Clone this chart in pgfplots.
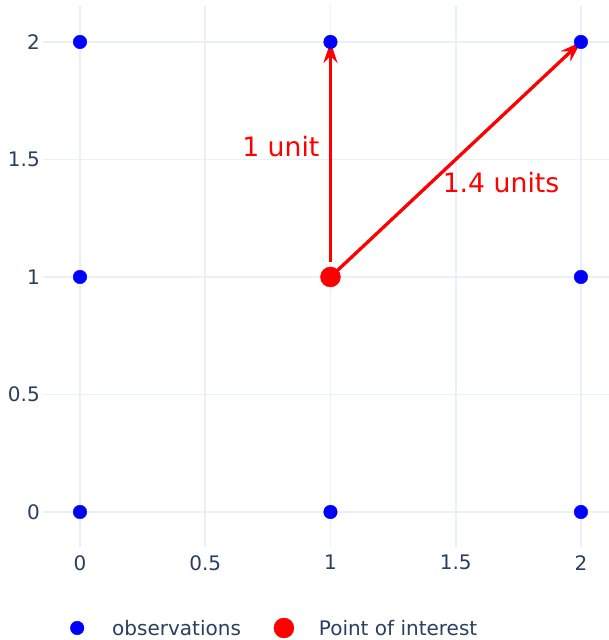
\documentclass[border=0pt]{standalone}
\usepackage{pgfplots}
\pgfplotsset{compat=1.18}
\usepackage{fontspec}
\setmainfont{DejaVu Sans}
\usetikzlibrary{arrows.meta}
\definecolor{tickc}{HTML}{2A3F5F}
\definecolor{gridc}{HTML}{EBF0F8}
\definecolor{pblue}{HTML}{0000FF}
\definecolor{pred}{HTML}{FF0000}
\pgfplotsset{dotlegend/.style={legend image code/.code={\path[draw=none,fill=none] (-10bp,0) rectangle (10bp,1bp); \draw[#1] plot coordinates {(0bp,0.5bp)};}}}
\begin{document}
\begin{tikzpicture}
\useasboundingbox (-43bp,-93bp) rectangle (566bp,547bp);
\begin{axis}[
  scale only axis, width=566bp, height=541bp,
  xmin=-0.1477, xmax=2.112, ymin=-0.149, ymax=2.153,
  axis line style={draw=none},
  major tick length=0pt,
  xtick={0,0.5,1,1.5,2}, xticklabels={0,0.5,1,1.5,2},
  ytick={0,0.5,1,1.5,2}, yticklabels={0,0.5,1,1.5,2},
  grid=major, grid style={gridc, line width=1.7bp},
  ticklabel style={font=\fontsize{20bp}{24bp}\selectfont, text=tickc, inner sep=0pt},
  xticklabel style={anchor=north, yshift=-8bp},
  yticklabel style={anchor=east, xshift=-3bp},
  clip=false,
  legend columns=2,
  legend cell align=left,
  legend style={at={(axis description cs:0.0424,-0.1497)}, anchor=west,
    draw=none, fill=none, inner sep=0pt,
    font=\fontsize{20bp}{24bp}\selectfont, text=tickc,
    nodes={inner sep=0pt},
    /tikz/every odd column/.append style={column sep=25bp},
    /tikz/every even column/.append style={column sep=33bp}},
]
\addplot[only marks, mark=*, mark size=6.8bp, mark options={draw=pblue, fill=pblue}, pblue, dotlegend]
  coordinates {(0,0) (0,1) (0,2) (1,0) (1,2) (2,0) (2,1) (2,2)};
\addlegendentry{observations}
\addplot[only marks, mark=*, mark size=10bp, mark options={draw=pred, fill=pred}, pred, dotlegend]
  coordinates {(1,1)};
\addlegendentry{Point of interest}
\draw[pred, line width=3.3bp, -{Stealth[length=21bp, width=14bp, inset=7bp]}] (axis cs:1,1.064) -- (axis cs:1,2);
\draw[pred, line width=3.3bp, -{Stealth[length=21bp, width=14bp, inset=7bp]}] (axis cs:1,1) -- (axis cs:2,2);
\node[pred, inner sep=0pt, font=\fontsize{26.7bp}{32bp}\selectfont] at (axis cs:0.802,1.557) {1 unit};
\node[pred, inner sep=0pt, font=\fontsize{26.7bp}{32bp}\selectfont] at (axis cs:1.681,1.40) {1.4 units};
\end{axis}
\end{tikzpicture}
\end{document}
